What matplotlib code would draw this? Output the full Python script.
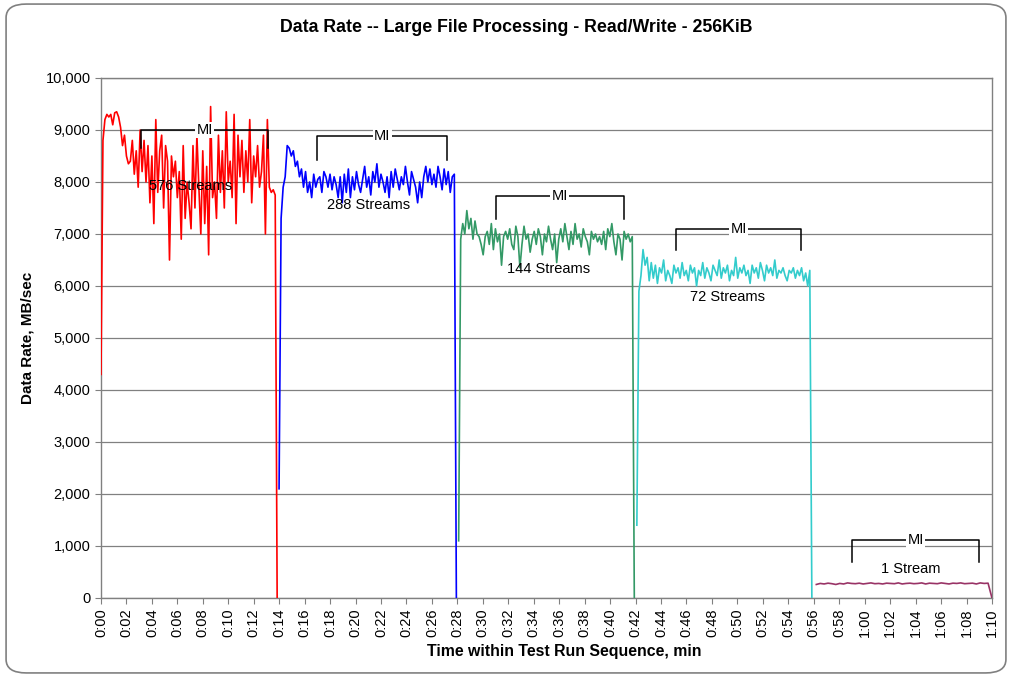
import numpy as np
import matplotlib
matplotlib.use("Agg")
import matplotlib.pyplot as plt
from matplotlib.patches import FancyBboxPatch
from matplotlib.ticker import FuncFormatter, MultipleLocator

plt.rcParams['font.family'] = ['Liberation Sans', 'DejaVu Sans']

# ---------------- data ----------------
title = "Data Rate -- Large File Processing - Read/Write - 256KiB"
xlabel = "Time within Test Run Sequence, min"
ylabel = "Data Rate, MB/sec"

red_span = (0.0, 13.84)
red_vals = [4300, 8800, 9200, 9300, 9250, 9300, 9100, 9330, 9350, 9250, 9050, 8700, 8900, 8500,
            8350, 8400, 8800, 8150, 8600, 7900, 9000, 8200, 8800, 8000, 8700, 7600, 8500, 7200,
            9200, 7800, 8600, 8900, 7500, 8700, 8400, 6500, 8500, 8100, 8400, 7700, 8200, 6900,
            8700, 7300, 8000, 7600, 7100, 8700, 7500, 8900, 7900, 7000, 8600, 7200, 8300, 6600,
            9450, 7700, 8000, 7300, 8900, 7800, 8600, 7500, 9350, 8000, 8400, 7700, 9300, 7200,
            8900, 8100, 8800, 7800, 8600, 8000, 9200, 7600, 8500, 8100, 8700, 7900, 8200, 8900,
            7000, 9200, 7900, 7800, 7850, 7750, 0]

blue_span = (13.99, 27.92)
blue_vals = [2100, 7300, 7900, 8100, 8700, 8650, 8500, 8600, 8300, 8400, 8100, 8250, 7900, 8200,
             7800, 8000, 7700, 8150, 7900, 8050, 8100, 7800, 8200, 8100, 7900, 8150, 7850, 8100,
             7950, 7700, 8100, 7600, 8150, 7800, 8250, 7700, 8100, 7850, 8200, 7950, 7800, 8050,
             8300, 7900, 8100, 7750, 8200, 8000, 8350, 7900, 8150, 8000, 7800, 8100, 7700, 8200,
             7900, 8250, 8050, 7850, 8100, 7950, 8300, 8000, 7750, 8200, 8050, 7900, 7600, 8000,
             7700, 8100, 8300, 8000, 8250, 7950, 8150, 7900, 8300, 8100, 7850, 8250, 7950, 8200,
             7800, 8100, 8150, 0]

green_span = (28.1, 41.9)
green_vals = [1100, 6900, 7200, 7000, 7450, 7100, 7300, 6900, 7250, 7000, 6950, 6800, 6600, 6950,
              7050, 6800, 7200, 6700, 7100, 6850, 7000, 6400, 6950, 7050, 6900, 7100, 6800, 6700,
              7150, 6950, 6350, 6800, 7150, 6900, 7000, 6650, 6900, 7050, 6800, 7100, 6950, 6600,
              7000, 6850, 7150, 6900, 6700, 7000, 6450, 6900, 7100, 6850, 7200, 6950, 6700, 7050,
              6800, 7200, 6900, 7000, 6750, 7100, 6950, 6850, 6600, 7050, 6900, 7000, 6850, 6950,
              6800, 7050, 6700, 7100, 6950, 7200, 6850, 6600, 7000, 6900, 6500, 7050, 6900, 7000,
              6850, 6950, 0]

cyan_span = (42.1, 55.85)
cyan_vals = [1400, 5900, 6200, 6700, 6400, 6550, 6100, 6450, 6150, 6400, 6050, 6350, 6250, 6500,
             6100, 6300, 6200, 6050, 6400, 6250, 6350, 6150, 6450, 6200, 6300, 6100, 6400, 6250,
             6350, 6000, 6300, 6200, 6450, 6150, 6350, 6250, 6100, 6400, 6300, 6200, 6500, 6150,
             6350, 6250, 6400, 6100, 6300, 6200, 6550, 6150, 6350, 6250, 6400, 6200, 6300, 6050,
             6400, 6250, 6350, 6150, 6450, 6300, 6100, 6400, 6250, 6350, 6200, 6500, 6150, 6300,
             6250, 6350, 6200, 6100, 6300, 6250, 6350, 6150, 6300, 6200, 6350, 6100, 6250, 6000,
             6300, 0]

maroon_span = (56.2, 70.0)
maroon_vals = [260, 280, 270, 285, 275, 260, 280, 270, 290, 280, 275, 285, 270, 280, 290, 275,
               280, 270, 285, 280, 275, 290, 270, 280, 285, 275, 280, 290, 270, 285, 280, 275,
               290, 280, 270, 285, 280, 290, 275, 280, 285, 270, 290, 280, 285, 0]

stream_labels = ["576 Streams", "288 Streams", "144 Streams", "72 Streams", "1 Stream"]
colors = ["#FF0000", "#0000FF", "#339966", "#33CCCC", "#993366"]

# MI bracket annotations: (x_start, x_end, y_top, y_bottom) and stream label positions
mi_brackets = [(3.15, 13.15, 9000, 8650), (17.0, 27.2, 8880, 8420), (31.0, 41.1, 7730, 7290),
               (45.2, 55.0, 7100, 6690), (59.0, 69.0, 1115, 690)]
label_pos = [(7.0, 7920), (21.0, 7560), (35.2, 6330), (49.2, 5790), (63.6, 560)]

# ---------------- plot ----------------
fig = plt.figure(figsize=(10.12, 6.77), dpi=100)
border = FancyBboxPatch((0.006, 0.006), 0.988, 0.988, boxstyle="round,pad=0,rounding_size=0.02",
                        transform=fig.transFigure, facecolor="white", edgecolor="#808080",
                        linewidth=1.2, zorder=-10)
fig.patches.append(border)

ax = fig.add_axes([0.0998, 0.1167, 0.8804, 0.7681])
ax.set_facecolor("none")

series = [(red_span, red_vals), (blue_span, blue_vals), (green_span, green_vals),
          (cyan_span, cyan_vals), (maroon_span, maroon_vals)]
for (span, vals), c in zip(series, colors):
    t = np.linspace(span[0], span[1], len(vals))
    ax.plot(t, vals, color=c, lw=1.2, zorder=3)

for (x0, x1, yt, yb) in mi_brackets:
    ax.plot([x0, x0, x1, x1], [yb, yt, yt, yb], color="black", lw=1.1, zorder=4)
    ax.text((x0 + x1) / 2, yt, "MI", ha="center", va="center", fontsize=10.5,
            bbox=dict(facecolor="white", edgecolor="none", pad=1.0), zorder=5)

for (lx, ly), lab in zip(label_pos, stream_labels):
    ax.text(lx, ly, lab, ha="center", va="center", fontsize=10.5, zorder=6)

ax.set_xlim(0, 70)
ax.set_ylim(0, 10000)
ax.xaxis.set_major_locator(MultipleLocator(2))
ax.yaxis.set_major_locator(MultipleLocator(1000))
ax.xaxis.set_major_formatter(FuncFormatter(lambda v, p: "%d:%02d" % (int(round(v)) // 60, int(round(v)) % 60)))
ax.yaxis.set_major_formatter(FuncFormatter(lambda v, p: "{:,.0f}".format(v)))
ax.tick_params(axis="x", rotation=90, labelsize=10.5, length=4, color="#808080", direction="out")
ax.tick_params(axis="y", labelsize=10.5, length=4, color="#808080", direction="out")
ax.grid(axis="y", color="#808080", lw=0.9)
ax.set_axisbelow(True)
for s in ax.spines.values():
    s.set_color("#808080")
    s.set_linewidth(1.0)

fig.text(516 / 1012, 1 - 28 / 677, title, ha="center", va="center", fontsize=12.8, fontweight="bold")
ax.set_xlabel(xlabel, fontsize=11.4, fontweight="bold")
ax.xaxis.set_label_coords((564 - 101) / 891, -0.088)
ax.set_ylabel(ylabel, fontsize=11, fontweight="bold", labelpad=8)

fig.savefig("out.png", dpi=100)
